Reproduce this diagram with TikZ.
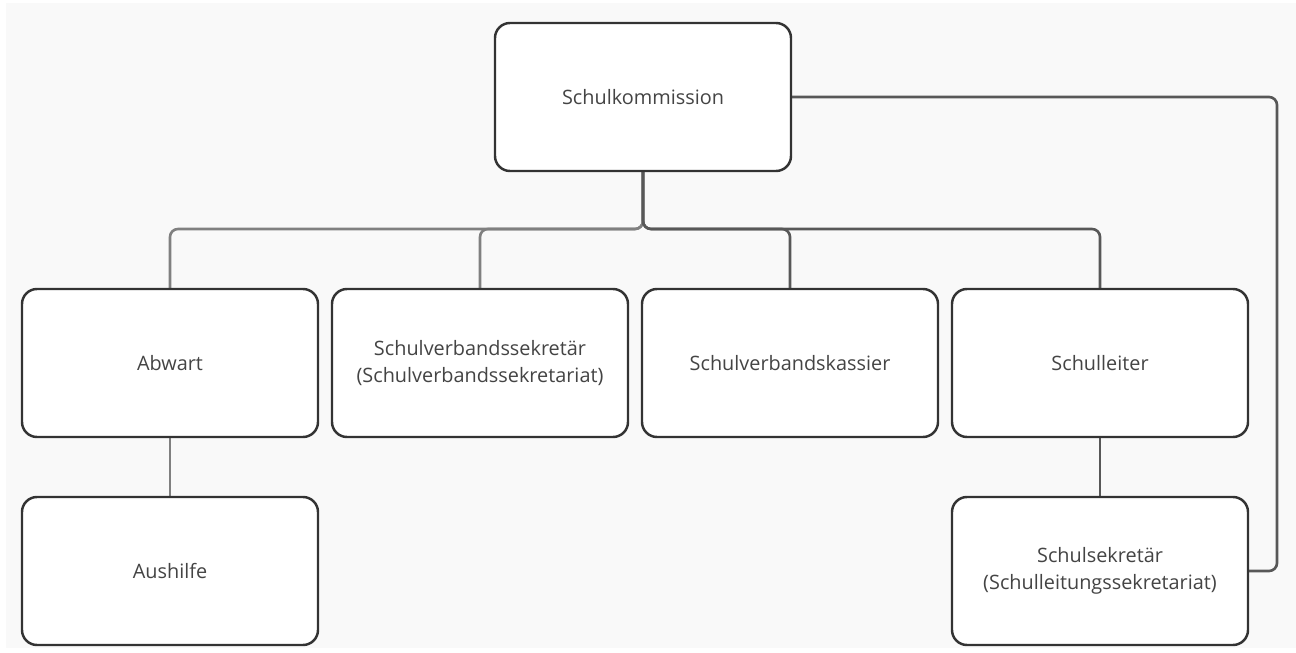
\documentclass[tikz,border=0pt]{standalone}
\usepackage{fontspec}
\setmainfont{Open Sans}
\usepackage{xcolor}
\usepackage{tikz}
\usetikzlibrary{positioning, calc, backgrounds}
\definecolor{boxline}{RGB}{51,51,51}
\definecolor{boxtext}{RGB}{68,68,68}
\definecolor{linklight}{RGB}{128,128,128}
\definecolor{linkdark}{RGB}{88,88,88}
\definecolor{canvas}{RGB}{249,249,249}

\begin{document}
\begin{tikzpicture}[
    unit/.style={draw=boxline, line width=1.4pt, fill=white, rounded corners=0.3cm, minimum width=5.92cm, minimum height=2.96cm, align=center, text=boxtext, font=\fontsize{11.3}{15.5}\selectfont, outer sep=0pt},
    link/.style={line width=1.5pt, rounded corners=0.16cm},
    lightlink/.style={link, draw=linklight},
    darklink/.style={link, draw=linkdark}
]
    \useasboundingbox (0,0) rectangle (25.92,13.04);

    % Top
    \node[unit] (kommission) at (12.86,11.10) {Schulkommission};

    % Second row
    \node[unit] (abwart) at (3.4,5.78) {Abwart};
    \node[unit] (sekretaer) at (9.6,5.78) {Schulverbandssekretär\\(Schulverbandssekretariat)};
    \node[unit] (kassier) at (15.8,5.78) {Schulverbandskassier};
    \node[unit] (leiter) at (22.0,5.78) {Schulleiter};

    % Third row
    \node[unit] (aushilfe) at (3.4,1.62) {Aushilfe};
    \node[unit] (schulsek) at (22.0,1.62) {Schulsekretär\\(Schulleitungssekretariat)};

    % Canvas and connectors
    \coordinate (bus) at ($(kommission.south)+(0,-1.16)$);
    \coordinate (loopx) at (25.54,0);
    \begin{scope}[on background layer]
        \fill[canvas] (0.12,0.08) rectangle (25.92,12.98);
        \draw[lightlink] (kommission.south) -- (bus) -| (abwart.north);
        \draw[lightlink] (kommission.south) -- (bus) -| (sekretaer.north);
        \draw[darklink] (kommission.south) -- (bus) -| (kassier.north);
        \draw[darklink] (kommission.south) -- (bus) -| (leiter.north);
        \draw[lightlink] (abwart) -- (aushilfe);
        \draw[darklink] (leiter) -- (schulsek);
        \draw[darklink] (kommission.east) -- (kommission.east -| loopx) |- (schulsek.east);
    \end{scope}
\end{tikzpicture}
\end{document}
